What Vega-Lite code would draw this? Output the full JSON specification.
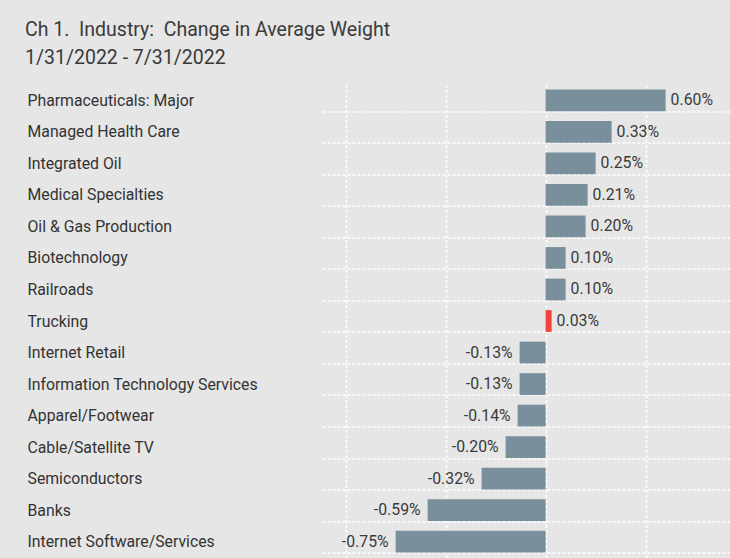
{
  "$schema": "https://vega.github.io/schema/vega-lite/v6.json",
  "autosize": {"type": "none"},
  "padding": {"left": 322, "top": 84.5, "right": 0, "bottom": 0},
  "width": 408,
  "height": 473,
  "background": "#e6e6e6",
  "title": {
    "text": ["Ch 1. \u00a0Industry: \u00a0Change in Average Weight", "1/31/2022 - 7/31/2022"],
    "anchor": "start",
    "frame": "group",
    "dx": -297,
    "dy": 12,
    "offset": 20,
    "font": "Roboto",
    "fontSize": 19.5,
    "fontWeight": "normal",
    "color": "#3a3a3a",
    "lineHeight": 28
  },
  "config": {
    "view": {"stroke": null},
    "font": "Roboto"
  },
  "data": {
    "values": [
      {"industry": "Pharmaceuticals: Major", "value": 0.60},
      {"industry": "Managed Health Care", "value": 0.33},
      {"industry": "Integrated Oil", "value": 0.25},
      {"industry": "Medical Specialties", "value": 0.21},
      {"industry": "Oil & Gas Production", "value": 0.20},
      {"industry": "Biotechnology", "value": 0.10},
      {"industry": "Railroads", "value": 0.10},
      {"industry": "Trucking", "value": 0.03},
      {"industry": "Internet Retail", "value": -0.13},
      {"industry": "Information Technology Services", "value": -0.13},
      {"industry": "Apparel/Footwear", "value": -0.14},
      {"industry": "Cable/Satellite TV", "value": -0.20},
      {"industry": "Semiconductors", "value": -0.32},
      {"industry": "Banks", "value": -0.59},
      {"industry": "Internet Software/Services", "value": -0.75}
    ]
  },
  "transform": [
    {"calculate": "(datum.value < 0 ? '-' : '') + format(abs(datum.value), '.2f') + '%'", "as": "label"}
  ],
  "encoding": {
    "y": {
      "field": "industry",
      "type": "nominal",
      "sort": null,
      "scale": {"paddingInner": 0.31, "paddingOuter": 0.155},
      "axis": {
        "title": null,
        "domain": false,
        "ticks": false,
        "tickSize": 0,
        "labelAlign": "left",
        "labelPadding": 295,
        "labelLimit": 320,
        "labelFont": "Roboto",
        "labelFontSize": 15.8,
        "labelColor": "#333333",
        "grid": true,
        "tickBand": "extent",
        "gridColor": "#ffffff",
        "gridDash": [3, 2],
        "gridWidth": 1.5,
        "gridOpacity": {"condition": {"test": "datum.index < 0", "value": 0}, "value": 1}
      }
    }
  },
  "layer": [
    {
      "mark": {"type": "bar"},
      "encoding": {
        "x": {
          "field": "value",
          "type": "quantitative",
          "scale": {"domain": [-1.118, 0.922], "nice": false, "zero": false},
          "axis": {
            "title": null,
            "labels": false,
            "ticks": false,
            "domain": false,
            "values": [-1, -0.5, 0, 0.5],
            "grid": true,
            "gridColor": "#ffffff",
            "gridDash": [3, 2],
            "gridWidth": 1.5
          }
        },
        "color": {
          "condition": {"test": "datum.industry === 'Trucking'", "value": "#f0433a"},
          "value": "#798f9b"
        }
      }
    },
    {
      "transform": [{"filter": "datum.value >= 0"}],
      "mark": {"type": "text", "align": "left", "baseline": "middle", "dx": 5, "fontSize": 15.8, "color": "#3a3a3a", "font": "Roboto"},
      "encoding": {
        "x": {"field": "value", "type": "quantitative"},
        "text": {"field": "label"}
      }
    },
    {
      "transform": [{"filter": "datum.value < 0"}],
      "mark": {"type": "text", "align": "right", "baseline": "middle", "dx": -7, "fontSize": 15.8, "color": "#3a3a3a", "font": "Roboto"},
      "encoding": {
        "x": {"field": "value", "type": "quantitative"},
        "text": {"field": "label"}
      }
    }
  ]
}
